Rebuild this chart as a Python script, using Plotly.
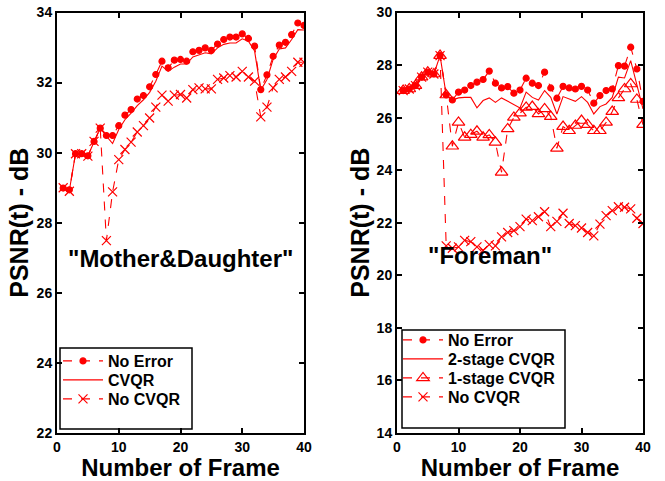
import plotly.graph_objects as go

frames = list(range(1, 41))

# ---- Left: "Mother&Daughter" ----
md_no_error = [28.99, 28.94, 29.97, 29.97, 29.91, 30.32, 30.70, 30.49, 30.49, 30.77,
               31.07, 31.23, 31.53, 31.63, 31.88, 32.23, 32.61, 32.42, 32.64, 32.66,
               32.61, 32.88, 32.92, 32.99, 32.92, 33.10, 33.23, 33.30, 33.30, 33.39,
               33.26, 33.04, 31.80, 32.22, 32.75, 33.07, 33.15, 33.37, 33.70, 33.63]
md_cvqr = [29.00, 28.92, 29.97, 29.97, 29.91, 30.32, 30.70, 30.47, 30.26, 30.66,
           30.94, 31.13, 31.34, 31.51, 31.72, 32.04, 32.47, 32.32, 32.44, 32.53,
           32.53, 32.73, 32.80, 32.85, 32.82, 32.99, 33.09, 33.13, 33.13, 33.25,
           33.18, 32.90, 31.78, 32.09, 32.66, 32.96, 32.99, 33.23, 33.51, 33.50]
md_no_cvqr = [29.00, 28.90, 29.97, 29.97, 29.90, 30.32, 30.70, 27.49, 28.88, 29.80,
              30.09, 30.30, 30.59, 30.77, 30.99, 31.30, 31.64, 31.47, 31.64, 31.66,
              31.56, 31.80, 31.85, 31.82, 31.82, 32.09, 32.13, 32.20, 32.16, 32.32,
              32.16, 32.04, 31.02, 31.30, 31.85, 32.09, 32.16, 32.32, 32.58, 32.58]

# ---- Right: "Foreman" ----
fm_no_error = [27.03, 27.09, 27.22, 27.54, 27.73, 27.66, 28.36, 26.86, 26.67, 26.97,
               27.05, 27.22, 27.35, 27.45, 27.77, 27.31, 27.13, 27.18, 26.93, 27.05,
               27.50, 27.31, 27.22, 27.73, 27.13, 26.74, 27.19, 27.13, 27.09, 27.19,
               27.05, 26.55, 26.84, 27.03, 27.09, 27.98, 27.96, 28.68, 27.85, 26.62]
fm_two_stage = [27.03, 27.09, 27.22, 27.54, 27.73, 27.66, 28.36, 26.86, 26.67, 26.75,
                26.77, 26.77, 26.37, 26.65, 26.75, 26.58, 26.75, 26.62, 26.50, 26.37,
                26.97, 26.77, 26.67, 27.03, 26.77, 26.14, 26.80, 26.71, 26.62, 26.80,
                26.58, 26.14, 26.42, 26.52, 26.77, 27.54, 27.51, 28.17, 27.28, 26.33]
fm_one_stage = [27.03, 27.09, 27.22, 27.54, 27.73, 27.66, 28.36, 26.86, 24.91, 25.82,
                25.25, 25.35, 25.48, 25.25, 25.34, 25.06, 23.92, 25.57, 26.01, 26.17,
                26.39, 26.42, 26.14, 26.33, 26.04, 24.83, 25.66, 25.50, 25.70, 25.89,
                25.73, 25.50, 25.50, 25.82, 26.23, 26.75, 27.09, 27.28, 26.69, 25.73]
fm_no_cvqr = [27.03, 27.09, 27.22, 27.54, 27.73, 27.66, 28.36, 21.12, 21.03, 21.08,
              21.33, 21.28, 21.08, 20.95, 21.17, 21.12, 21.46, 21.63, 21.70, 21.85,
              22.14, 22.08, 22.23, 22.42, 21.85, 22.05, 22.36, 21.97, 21.89, 21.80,
              21.63, 21.50, 21.95, 22.27, 22.46, 22.61, 22.59, 22.53, 22.17, 21.97]

x_ticks = [0, 10, 20, 30, 40]
left_y_ticks = [22, 24, 26, 28, 30, 32, 34]
right_y_ticks = [14, 16, 18, 20, 22, 24, 26, 28, 30]

RED = "#ff0000"
FONT = "Liberation Sans, Arial, sans-serif"
W, H = 665, 481


def px_x(p):
    return p / W


def px_y(p):
    return 1 - p / H


fig = go.Figure()

legend_font = dict(family=FONT, size=16, color="black", weight="bold")
legend_layout = {}


def add(x, y, name, mode, dash, symbol, msize, xa, ya, legend, lx, ly):
    fig.add_trace(go.Scatter(
        x=x, y=y, name=name, mode=mode, xaxis=xa, yaxis=ya, legend=legend,
        line=dict(color=RED, width=1.1, dash=dash),
        marker=dict(color=RED, symbol=symbol, size=msize,
                    line=dict(color=RED, width=1.2)),
    ))
    legend_layout[legend] = dict(x=px_x(lx), y=px_y(ly), xanchor="left", yanchor="middle",
                                 bgcolor="rgba(0,0,0,0)", borderwidth=0,
                                 font=legend_font, itemwidth=40)


add(frames, md_no_error, "No Error", "lines+markers", "dash", "circle", 6, "x", "y", "legend", 58, 361)
add(frames, md_cvqr, "CVQR", "lines", "solid", "circle", 6, "x", "y", "legend2", 58, 380)
add(frames, md_no_cvqr, "No CVQR", "lines+markers", "dash", "x-thin-open", 9, "x", "y", "legend3", 58, 399)

add(frames, fm_no_error, "No Error", "lines+markers", "dash", "circle", 6, "x2", "y2", "legend4", 398, 340)
add(frames, fm_two_stage, "2-stage CVQR", "lines", "solid", "circle", 6, "x2", "y2", "legend5", 398, 359)
add(frames, fm_one_stage, "1-stage CVQR", "lines+markers", "dash", "triangle-up-open", 11, "x2", "y2", "legend6", 398, 378)
add(frames, fm_no_cvqr, "No CVQR", "lines+markers", "dash", "x-thin-open", 9, "x2", "y2", "legend7", 398, 397)

tick_font = dict(family=FONT, size=14, color="black", weight="bold")
xtitle_font = dict(family=FONT, size=24, color="black", weight="bold")
ytitle_font = dict(family=FONT, size=25, color="black", weight="bold")

common_axis = dict(showline=True, linecolor="black", linewidth=2, mirror="ticks",
                   ticks="inside", ticklen=5, tickwidth=1.5, tickcolor="black",
                   showgrid=False, zeroline=False, tickfont=tick_font, automargin=False)

ydom = [px_y(433), px_y(12.5)]

fig.update_layout(
    width=W, height=H,
    margin=dict(l=0, r=0, t=0, b=0),
    paper_bgcolor="white", plot_bgcolor="white",
    showlegend=True,
    xaxis=dict(domain=[px_x(57), px_x(304)], range=[0, 40], tickvals=x_ticks, anchor="y",
               title=dict(text="Number of Frame", standoff=6, font=xtitle_font), **common_axis),
    yaxis=dict(domain=ydom, range=[22, 34], tickvals=left_y_ticks, anchor="x",
               title=dict(text="PSNR(t) - dB", standoff=1, font=ytitle_font), **common_axis),
    xaxis2=dict(domain=[px_x(397), px_x(643)], range=[0, 40], tickvals=x_ticks, anchor="y2",
                title=dict(text="Number of Frame", standoff=6, font=xtitle_font), **common_axis),
    yaxis2=dict(domain=ydom, range=[14, 30], tickvals=right_y_ticks, anchor="x2",
                title=dict(text="PSNR(t) - dB", standoff=0, font=ytitle_font), **common_axis),
    annotations=[
        dict(text='"Mother&Daughter"', x=px_x(181), y=px_y(258), xref="paper", yref="paper",
             showarrow=False, xanchor="center", yanchor="middle",
             font=dict(family=FONT, size=24, color="black", weight="bold")),
        dict(text='"Foreman"', x=px_x(490), y=px_y(255), xref="paper", yref="paper",
             showarrow=False, xanchor="center", yanchor="middle",
             font=dict(family=FONT, size=24, color="black", weight="bold")),
    ],
    shapes=[
        dict(type="rect", xref="paper", yref="paper",
             x0=px_x(60), x1=px_x(192), y0=px_y(429), y1=px_y(348),
             line=dict(color="black", width=1.5), fillcolor="white", layer="below"),
        dict(type="rect", xref="paper", yref="paper",
             x0=px_x(402), x1=px_x(565), y0=px_y(428), y1=px_y(330),
             line=dict(color="black", width=1.5), fillcolor="white", layer="below"),
    ],
    **legend_layout,
)

fig.write_html("out.html")
